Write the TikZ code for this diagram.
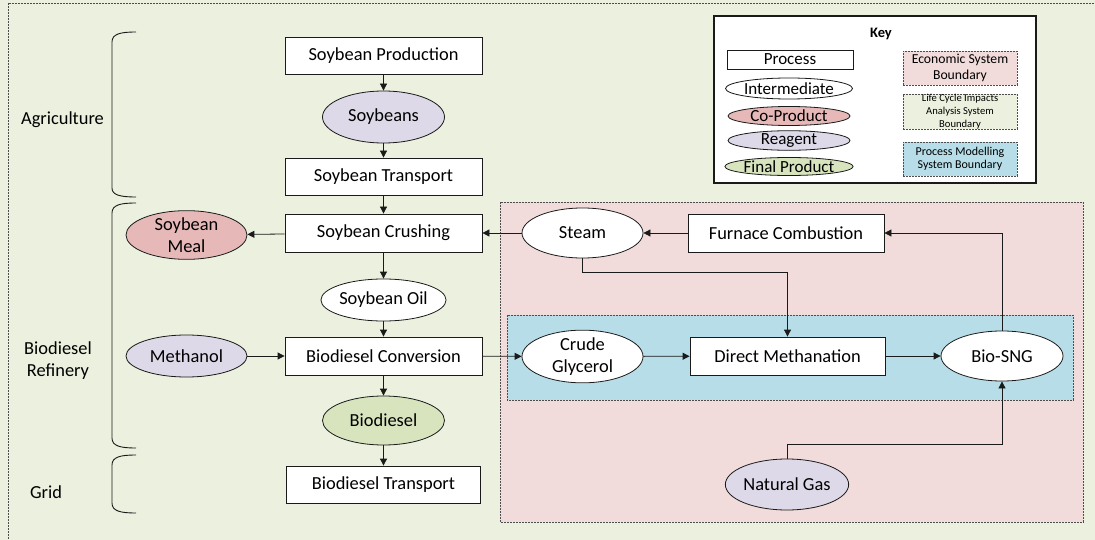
\documentclass[tikz,border=0pt]{standalone}
\usepackage{fontspec}
\setmainfont{Carlito}
\usetikzlibrary{arrows.meta,shapes.geometric}

\definecolor{bggreen}{HTML}{EBF1DE}
\definecolor{econpink}{HTML}{F2DCDB}
\definecolor{procblue}{HTML}{B7DEE8}
\definecolor{coprod}{HTML}{E6B9B8}
\definecolor{reagent}{HTML}{DDD9E8}
\definecolor{finalprod}{HTML}{D7E4BD}
\definecolor{edge}{HTML}{1A1A1A}
\definecolor{dashgrey}{HTML}{4D4D4D}

\tikzset{
  txt/.style={font=\fontsize{18.4}{21.5}\selectfont, align=center},
  procbox/.style={txt, draw=edge, line width=0.8pt, fill=white, rectangle,
    inner sep=0pt, minimum width=197pt, minimum height=37pt},
  blob/.style={txt, draw=edge, line width=0.8pt, ellipse, inner sep=0pt,
    minimum width=122pt, minimum height=50pt},
  interm/.style={blob, fill=white},
  coblob/.style={blob, fill=coprod},
  reblob/.style={blob, fill=reagent},
  finblob/.style={blob, fill=finalprod},
  arr/.style={draw=edge, line width=0.8pt, -{Triangle[length=7pt,width=7pt]}},
  bound/.style={draw=dashgrey, line width=0.7pt, dash pattern=on 2pt off 1pt},
  bracketline/.style={draw=edge, line width=0.9pt},
  keytxt/.style={font=\fontsize{17}{19}\selectfont, inner sep=0pt},
}

\begin{document}
\begin{tikzpicture}[x=1pt,y=-1pt]
\useasboundingbox (0,0) rectangle (1095,540);
\clip (0,0) rectangle (1095,540);

% life cycle impacts boundary (background)
\fill[bggreen] (0,0) rectangle (1095,540);
\draw[bound] (8,3) rectangle (1110,560);

% economic and process modelling boundaries
\draw[bound, fill=econpink] (500,202) rectangle (1083,522);
\draw[bound, fill=procblue] (507,315) rectangle (1073,400);

% stage brackets
\draw[bracketline] (136,32) .. controls (120,32) and (112,34) .. (112,42)
  -- (112,188) .. controls (112,195) and (120,197) .. (136,197);
\draw[bracketline] (136,203) .. controls (120,203) and (112,205) .. (112,213)
  -- (112,438) .. controls (112,446) and (120,448) .. (136,448);
\draw[bracketline] (136,455) .. controls (120,455) and (112,457) .. (112,465)
  -- (112,503) .. controls (112,511) and (120,513) .. (136,513);

\node[txt] (lagr) at (62.5,120) {Agriculture};
\node[txt] (lref) at (58,360.5) {Biodiesel\\Refinery};
\node[txt] (lgrid) at (46,492) {Grid};

% main process chain
\node[procbox] (prod) at (383.5,55.5) {Soybean Production};
\node[reblob, minimum height=52pt] (beans) at (383.5,117) {Soybeans};
\node[procbox] (trans) at (383.5,176.5) {Soybean Transport};
\node[procbox, minimum height=38pt] (crush) at (383.5,233) {Soybean Crushing};
\node[coblob, minimum width=121pt, minimum height=46pt] (meal) at (186.5,235) {Soybean\\Meal};
\node[interm, minimum height=42pt] (oil) at (383.5,300) {Soybean Oil};
\node[procbox, minimum height=38pt] (conv) at (383.5,356) {Biodiesel Conversion};
\node[reblob, minimum width=121pt, minimum height=42pt] (meth) at (186.5,356) {Methanol};
\node[finblob, minimum height=49pt] (bd) at (383.5,420.5) {Biodiesel};
\node[procbox, minimum width=194pt] (btrans) at (383.5,484.5) {Biodiesel Transport};

% glycerol upgrading
\node[interm, minimum width=121pt] (steam) at (582.5,233) {Steam};
\node[procbox, minimum width=196pt, minimum height=38pt] (furn) at (786,233) {Furnace Combustion};
\node[interm, minimum width=121pt, minimum height=49pt] (glyc) at (582.5,356.5) {Crude\\Glycerol};
\node[procbox, minimum width=195pt, minimum height=38pt] (dm) at (787.5,356) {Direct Methanation};
\node[interm] (sng) at (1002,356) {Bio-SNG};
\node[reblob, minimum height=51pt] (ng) at (787,484.5) {Natural Gas};

% connectors
\draw[arr] (prod) -- (beans);
\draw[arr] (beans) -- (trans);
\draw[arr] (trans) -- (crush);
\draw[arr] (crush) -- (oil);
\draw[arr] (oil) -- (conv);
\draw[arr] (conv) -- (bd);
\draw[arr] (bd) -- (btrans);
\draw[arr] (crush) -- (meal);
\draw[arr] (steam) -- (crush);
\draw[arr] (furn) -- (steam);
\draw[arr] (meth) -- (conv);
\draw[arr] (conv) -- (glyc);
\draw[arr] (glyc) -- (dm);
\draw[arr] (dm) -- (sng);
\draw[arr] (steam.south) -- ++(0,14) -| (dm.north);
\draw[arr] (sng.north) |- (furn.east);
\draw[arr] (ng.north) -- ++(0,-14) -| (sng.south);

% key
\node[draw=edge, line width=1.3pt, fill=white, minimum width=322pt, minimum height=167pt,
  inner sep=0pt] (keybox) at (875,99.5) {};
\node[font=\bfseries\fontsize{14.5}{16}\selectfont] (keytitle) at (881,34) {Key};
\node[keytxt, draw=edge, line width=0.8pt, fill=white, minimum width=126pt,
  minimum height=19pt] (kproc) at (790,59.5) {Process};
\node[keytxt, draw=edge, line width=0.8pt, ellipse, fill=white, minimum width=122pt,
  minimum height=21pt] (kint) at (789,88.5) {Intermediate};
\node[keytxt, draw=edge, line width=0.8pt, ellipse, fill=coprod, minimum width=122pt,
  minimum height=19pt] (kco) at (789,116) {Co-Product};
\node[keytxt, draw=edge, line width=0.8pt, ellipse, fill=reagent, minimum width=122pt,
  minimum height=19pt] (kre) at (789,140.5) {Reagent};
\node[keytxt, draw=edge, line width=0.8pt, ellipse, fill=finalprod, minimum width=122pt,
  minimum height=18pt] (kfin) at (789,166.5) {Final Product};

\node[bound, fill=econpink, minimum width=114pt, minimum height=34pt, inner sep=0pt,
  align=center, font=\fontsize{13.7}{16}\selectfont] (kecon) at (960,68) {Economic System\\Boundary};
\node[bound, fill=bggreen, minimum width=114pt, minimum height=35pt, inner sep=0pt,
  align=center, font=\fontsize{10.6}{13}\selectfont] (klca) at (960,111.5) {Life Cycle Impacts\\Analysis System\\Boundary};
\node[bound, fill=procblue, minimum width=114pt, minimum height=34pt, inner sep=0pt,
  align=center, font=\fontsize{12}{12.5}\selectfont] (kpm) at (960,159) {Process Modelling\\System Boundary};
\end{tikzpicture}
\end{document}
